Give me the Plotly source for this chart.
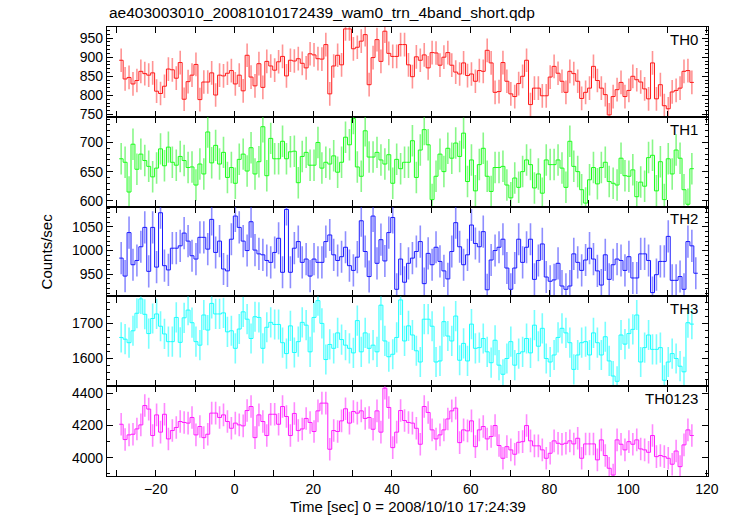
import numpy as np
import plotly.graph_objects as go
from plotly.subplots import make_subplots

TITLE = "ae403003010_20081010172439_wam0_trn_4band_short.qdp"
XLABEL = "Time [sec] 0 = 2008/10/10 17:24:39"
YLABEL = "Counts/sec"
BANDS = ["TH0", "TH1", "TH2", "TH3", "TH0123"]
T_START = -28.8   # centre of first 1-s bin
BIN = 1.0

TH0 = [892, 843, 847, 830, 839, 863, 857, 853, 859, 811,
       805, 824, 869, 867, 845, 886, 790, 836, 853, 881,
       789, 835, 835, 859, 801, 853, 851, 858, 865, 830,
       853, 812, 905, 848, 825, 883, 821, 889, 877, 866,
       888, 902, 851, 892, 890, 896, 884, 872, 909, 906,
       896, 895, 933, 804, 877, 905, 880, 974, 974, 922,
       926, 942, 959, 828, 899, 946, 889, 968, 910, 902,
       902, 933, 933, 880, 849, 901,
       892, 906, 872, 912, 911, 879, 900, 912, 879, 861,
       856, 885, 852, 856, 837, 865, 863, 918, 885, 808,
       810, 886, 837, 804, 797, 831, 850, 892, 776, 819,
       819, 799, 799, 848, 876, 858, 837, 808, 863, 857,
       837, 792, 808, 819, 876, 839, 819, 802, 749, 797,
       815, 834, 797, 813, 850, 841, 835, 817, 791, 885,
       791, 828, 773, 765, 809, 813, 819, 863, 865, 834]

TH1 = [672, 666, 615, 697, 654, 680, 669, 659, 641, 656,
       689, 660, 692, 666, 661, 676, 669, 657, 658, 627,
       663, 646, 718, 665, 695, 663, 683, 640, 657, 630,
       671, 680, 651, 691, 646, 667, 727, 643, 707, 672,
       672, 702, 672, 684, 685, 631, 676, 683, 661, 661,
       700, 656, 666, 663, 677, 649, 666, 709, 696, 741,
       658, 642, 720, 675, 675, 683, 670, 663, 679, 630,
       671, 655, 666, 666, 703,
       640, 687, 722, 696, 602, 642, 680, 650, 690, 673,
       699, 676, 716, 633, 670, 617, 662, 690, 642, 616,
       657, 657, 659, 627, 605, 639, 623, 650, 670, 662,
       622, 646, 613, 670, 662, 662, 670, 656, 623, 702,
       659, 650, 619, 596, 636, 657, 629, 657, 666, 633,
       630, 627, 673, 643, 642, 653, 607, 632, 625, 674,
       678, 617, 667, 602, 672, 646, 687, 673, 619, 594, 655]

TH2 = [984, 946, 1038, 970, 979, 1008, 1049, 956, 1049, 965,
       1080, 968, 959, 1005, 1005, 1010, 1037, 1020, 989, 982,
       1028, 1028, 1003, 1066, 996, 1020, 961, 957, 1024, 1073,
       1049, 1020, 1000, 1061, 1001, 993, 991, 979, 975, 996,
       1026, 954, 1087, 954, 1005, 1019, 975, 982, 946, 982,
       975, 975, 1019, 1033, 991, 979, 987, 1007, 968, 958,
       986, 1063, 998, 945, 1073, 973, 1023, 978, 1038, 1070,
       918, 982, 933, 973, 984, 998, 1019,
       930, 994, 970, 1007, 977, 957, 940, 998, 1059, 1008,
       970, 991, 1054, 1015, 1008, 1040, 917, 980, 1000, 1007,
       1024, 963, 918, 963, 1024, 975, 1007, 1024, 939, 979,
       1014, 944, 935, 938, 973, 925, 918, 925, 993, 975,
       958, 980, 1005, 982, 957, 927, 991, 939, 970, 982,
       979, 958, 987, 942, 942, 993, 993, 979, 911, 949,
       977, 977, 1030, 937, 937, 945, 918, 1019, 1010, 952]

TH3 = [1660, 1655, 1645, 1679, 1729, 1770, 1726, 1671, 1714, 1727,
       1692, 1670, 1648, 1648, 1717, 1646, 1716, 1738, 1702, 1648,
       1638, 1724, 1681, 1757, 1727, 1727, 1730, 1676, 1679, 1629,
       1684, 1733, 1712, 1657, 1719, 1717, 1629, 1689, 1703, 1697,
       1697, 1645, 1614, 1693, 1617, 1648, 1703, 1695, 1619, 1717,
       1765, 1700, 1597, 1640, 1629, 1673, 1654, 1638, 1629, 1616,
       1708, 1619, 1673, 1629, 1638, 1619, 1752, 1650, 1605, 1612,
       1660, 1767, 1650, 1693, 1667, 1622,
       1590, 1712, 1712, 1692, 1590, 1593, 1705, 1664, 1650, 1721,
       1595, 1643, 1593, 1698, 1629, 1631, 1657, 1619, 1588, 1652,
       1581, 1555, 1600, 1648, 1581, 1614, 1619, 1657, 1616, 1695,
       1635, 1686, 1600, 1590, 1610, 1660, 1686, 1673, 1645, 1569,
       1610, 1645, 1648, 1610, 1673, 1645, 1610, 1662, 1593, 1550,
       1535, 1667, 1641, 1671, 1683, 1724, 1590, 1631, 1667, 1626,
       1626, 1631, 1538, 1590, 1614, 1600, 1578, 1562, 1702, 1698]

TH0123 = [4208, 4113, 4142, 4146, 4179, 4204, 4324, 4302, 4138, 4266,
          4159, 4270, 4117, 4169, 4188, 4225, 4219, 4215, 4250, 4142,
          4194, 4125, 4146, 4277, 4277, 4250, 4266, 4225, 4183, 4215,
          4204, 4198, 4293, 4318, 4125, 4266, 4225, 4138, 4270, 4270,
          4208, 4318, 4256, 4138, 4275, 4169, 4179, 4244, 4219, 4163,
          4291, 4339, 4339, 4053, 4169, 4163, 4229, 4304, 4215, 4287,
          4277, 4291, 4244, 4250, 4177, 4291, 4159, 4432, 4312, 4063,
          4159, 4293, 4231, 4219, 4215, 4183,
          4084, 4318, 4281, 4173, 4117, 4142, 4173, 4241, 4291, 4308,
          4094, 4173, 4167, 4229, 4069, 4173, 4194, 4117, 4132, 4200,
          4076, 3997, 4069, 4049, 4022, 4096, 4100, 4200, 4105, 4074,
          4074, 4049, 3997, 4028, 4105, 4090, 4084, 4090, 4105, 4086,
          4121, 3997, 4086, 4086, 4086, 3987, 4111, 4014, 3935, 3893,
          4111, 4084, 4049, 4100, 4084, 4111, 4055, 4049, 4034, 4138,
          4007, 4014, 4007, 3997, 3960, 4042, 3945, 4080, 4173, 4138]

SERIES = [TH0, TH1, TH2, TH3, TH0123]
ERRORS = [31, 27, 34, 43, 70]
COLORS = ["#ff1a1a", "#1aff1a", "#1a1aff", "#1affff", "#ff1aff"]
ERR_COLORS = ["rgba(255,60,60,0.55)", "rgba(40,240,40,0.55)", "rgba(50,50,255,0.55)",
              "rgba(30,255,255,0.6)", "rgba(255,40,255,0.55)"]
YRANGES = [[744, 979], [590, 744], [903, 1093], [1521, 1777], [3887, 4444]]
YTICKS = [[750, 800, 850, 900, 950], [600, 650, 700], [950, 1000, 1050], [1600, 1700], [4000, 4200, 4400]]
YMINOR = [10, 10, 10, 20, 100]
XRANGE = [-32.4, 120.3]

FONT = "Liberation Sans, Arial, Helvetica, sans-serif"

fig = make_subplots(rows=5, cols=1, shared_xaxes=True, vertical_spacing=0)

for i, vals in enumerate(SERIES):
    v = np.array(vals, dtype=float)
    t = T_START + BIN * np.arange(len(v))
    edges = np.append(t - BIN / 2, t[-1] + BIN / 2)
    ystep = np.append(v, v[-1])
    fig.add_trace(go.Scatter(x=t, y=v, mode="markers", marker=dict(size=0, opacity=0),
                             error_y=dict(type="constant", value=ERRORS[i], width=0,
                                          thickness=1.6, color=ERR_COLORS[i]),
                             hoverinfo="skip", showlegend=False), row=i + 1, col=1)
    fig.add_trace(go.Scatter(x=edges, y=ystep, mode="lines", line=dict(shape="hv", color=COLORS[i], width=1),
                             hoverinfo="skip", showlegend=False), row=i + 1, col=1)
    fig.update_yaxes(range=YRANGES[i], tickvals=YTICKS[i], ticks="inside", ticklen=6,
                     tickwidth=1, tickcolor="black", showline=True, linecolor="black", linewidth=1.3,
                     mirror="allticks", showgrid=False, zeroline=False, automargin=False,
                     minor=dict(dtick=YMINOR[i], tick0=0, ticks="inside", ticklen=3, tickcolor="black"),
                     tickfont=dict(size=14, color="black", family=FONT), row=i + 1, col=1)
    fig.update_xaxes(range=XRANGE, dtick=20, tick0=0, ticks="inside", ticklen=6, tickwidth=1,
                     tickcolor="black", showline=True, linecolor="black", linewidth=1.3,
                     mirror="allticks", showgrid=False, zeroline=False, automargin=False,
                     minor=dict(dtick=10, tick0=0, ticks="inside", ticklen=6, tickcolor="black"),
                     showticklabels=(i == 4),
                     tickfont=dict(size=14, color="black", family=FONT), row=i + 1, col=1)
    fig.add_annotation(text=BANDS[i], xref=f"x{'' if i == 0 else i + 1} domain",
                       yref=f"y{'' if i == 0 else i + 1} domain", x=0.987, y=0.98,
                       xanchor="right", yanchor="top", showarrow=False,
                       font=dict(size=15, color="black", family=FONT))

fig.add_annotation(text=YLABEL, xref="paper", yref="paper", x=-0.1, y=0.5, textangle=-90,
                   xanchor="center", yanchor="middle", showarrow=False,
                   font=dict(size=15, color="black", family=FONT))
fig.add_annotation(text=XLABEL, xref="paper", yref="paper", x=0.5, y=-0.067,
                   xanchor="center", yanchor="middle", showarrow=False,
                   font=dict(size=15, color="black", family=FONT))
fig.add_annotation(text=TITLE, xref="paper", yref="paper", x=0.0, y=1.0, yshift=4,
                   xanchor="left", yanchor="bottom", showarrow=False,
                   font=dict(size=15.5, color="black", family=FONT))

fig.update_layout(width=734, height=516, margin=dict(l=107, r=26, t=27, b=40),
                  paper_bgcolor="white", plot_bgcolor="white", hovermode=False,
                  font=dict(family=FONT, color="black"))

fig.write_html("out.html", config={"displayModeBar": False},
               post_script="document.body.style.margin='0px';document.body.style.overflow='hidden';")
